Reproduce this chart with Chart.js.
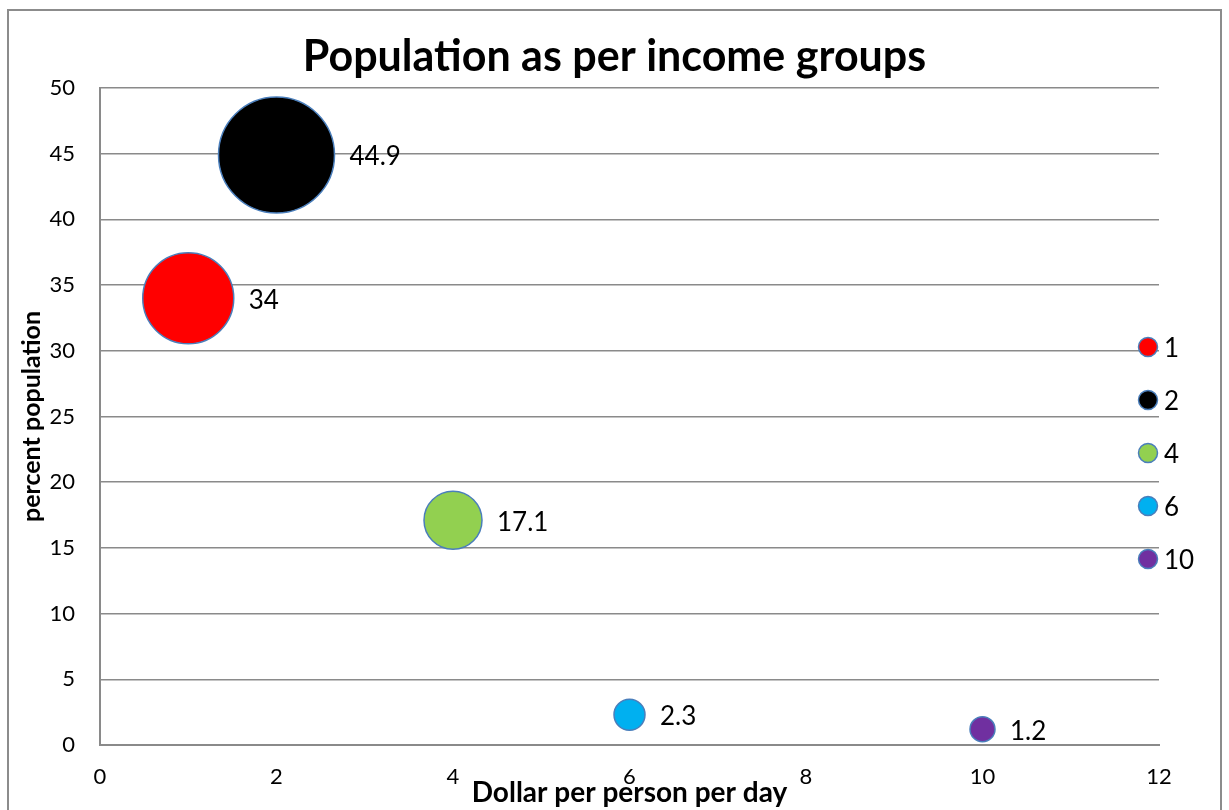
<!DOCTYPE html>
<html>
<head>
<meta charset="utf-8">
<script src="https://cdn.jsdelivr.net/npm/chart.js@4.4.1/dist/chart.umd.min.js"></script>
<style>
  html, body { margin: 0; padding: 0; background: #ffffff; }
  #wrap { width: 1229px; height: 810px; }
</style>
</head>
<body>
<div id="wrap"><canvas id="c" width="1229" height="810"></canvas></div>
<script>
// ---- data ----
const seriesNames = ['1', '2', '4', '6', '10'];
const xValues = [1, 2, 4, 6, 10];            // dollar per person per day
const yValues = [34, 44.9, 17.1, 2.3, 1.2];  // percent population
const bubbleSize = [45.5, 58, 29, 15.5, 12.5]; // bubble radius
const xTickValues = [0, 2, 4, 6, 8, 10, 12];
const yTickValues = [0, 5, 10, 15, 20, 25, 30, 35, 40, 45, 50];
const titleText = 'Population as per income groups';
const xTitle = 'Dollar per person per day';
const yTitle = 'percent population';

// ---- styles ----
const fillColors = ['#ff0000', '#000000', '#92d050', '#00b0f0', '#7030a0'];
const bubbleBorder = '#4a7ebb';
const gridColor = '#8a8a8a';
const FONT = 'Lato, "Open Sans", sans-serif';

const datasets = seriesNames.map((name, i) => ({
  label: name,
  data: [{ x: xValues[i], y: yValues[i], r: bubbleSize[i] }],
  backgroundColor: fillColors[i],
  borderColor: bubbleBorder,
  borderWidth: 1.5,
  hoverRadius: 0,
  hoverBorderWidth: 1.5
}));

const framePlugin = {
  id: 'frame',
  beforeDraw(chart) {
    const ctx = chart.ctx;
    ctx.save();
    ctx.fillStyle = '#ffffff';
    ctx.fillRect(0, 0, chart.width, chart.height);
    ctx.strokeStyle = '#8c8c8c';
    ctx.lineWidth = 2;
    ctx.strokeRect(8, 10, 1213, 840);
    ctx.restore();
  }
};

const labelPlugin = {
  id: 'bubbleLabels',
  afterDatasetsDraw(chart) {
    const ctx = chart.ctx;
    ctx.save();
    ctx.font = '26px ' + FONT;
    ctx.fillStyle = '#000000';
    ctx.textAlign = 'left';
    ctx.textBaseline = 'middle';
    chart.data.datasets.forEach((ds, i) => {
      const meta = chart.getDatasetMeta(i);
      meta.data.forEach((el, j) => {
        const v = ds.data[j].y;
        ctx.fillText(String(v), el.x + el.options.radius + 15, el.y + 2);
      });
    });
    ctx.restore();
  }
};

const legendPlugin = {
  id: 'sideLegend',
  afterDraw(chart) {
    const ctx = chart.ctx;
    const area = chart.chartArea;
    ctx.save();
    ctx.font = '26px ' + FONT;
    ctx.textAlign = 'left';
    ctx.textBaseline = 'middle';
    chart.data.datasets.forEach((ds, i) => {
      const cx = area.right - 11;
      const cy = 347 + i * 53;
      ctx.beginPath();
      ctx.arc(cx, cy, 9.5, 0, Math.PI * 2);
      ctx.fillStyle = ds.backgroundColor;
      ctx.fill();
      ctx.lineWidth = 1.5;
      ctx.strokeStyle = bubbleBorder;
      ctx.stroke();
      ctx.fillStyle = '#000000';
      ctx.fillText(ds.label, cx + 16, cy + 2);
    });
    ctx.restore();
  }
};

new Chart(document.getElementById('c'), {
  type: 'bubble',
  data: { datasets },
  options: {
    responsive: false,
    animation: false,
    events: [],
    layout: { padding: 0 },
    clip: false,
    plugins: {
      legend: { display: false },
      tooltip: { enabled: false },
      title: {
        display: true,
        text: titleText,
        color: '#000000',
        font: { family: FONT, size: 43, weight: 'bold', lineHeight: 1.2 },
        padding: { top: 31.5, bottom: 4.9 }
      }
    },
    scales: {
      x: {
        type: 'linear',
        min: xTickValues[0],
        max: xTickValues[xTickValues.length - 1],
        afterBuildTicks(scale) { scale.ticks = xTickValues.map(v => ({ value: v })); },
        afterFit(scale) { scale.height = 65; },
        grid: { display: false, drawTicks: false },
        border: { display: true, color: gridColor, width: 2 },
        ticks: { color: '#000000', padding: 19, maxRotation: 0, font: { family: FONT, size: 22 } },
        title: {
          display: true,
          text: xTitle,
          color: '#000000',
          font: { family: FONT, size: 28, weight: 'bold', lineHeight: 1.2 },
          padding: { top: 0, bottom: 0 }
        }
      },
      y: {
        type: 'linear',
        min: yTickValues[0],
        max: yTickValues[yTickValues.length - 1],
        afterBuildTicks(scale) { scale.ticks = yTickValues.map(v => ({ value: v })); },
        afterFit(scale) { scale.width = 100; },
        grid: { color: gridColor, lineWidth: 1.5, drawTicks: false },
        border: { display: true, color: gridColor, width: 2 },
        ticks: { color: '#000000', padding: 25, font: { family: FONT, size: 22 } },
        title: {
          display: true,
          text: yTitle,
          color: '#000000',
          font: { family: FONT, size: 25, weight: 'bold', lineHeight: 1.2 },
          padding: { top: 17, bottom: 0 }
        }
      },
      spacer: {
        type: 'linear',
        position: 'right',
        display: true,
        afterFit(scale) { scale.width = 70; },
        grid: { display: false, drawTicks: false },
        border: { display: false },
        ticks: { display: false }
      }
    }
  },
  plugins: [framePlugin, labelPlugin, legendPlugin]
});
</script>
</body>
</html>
